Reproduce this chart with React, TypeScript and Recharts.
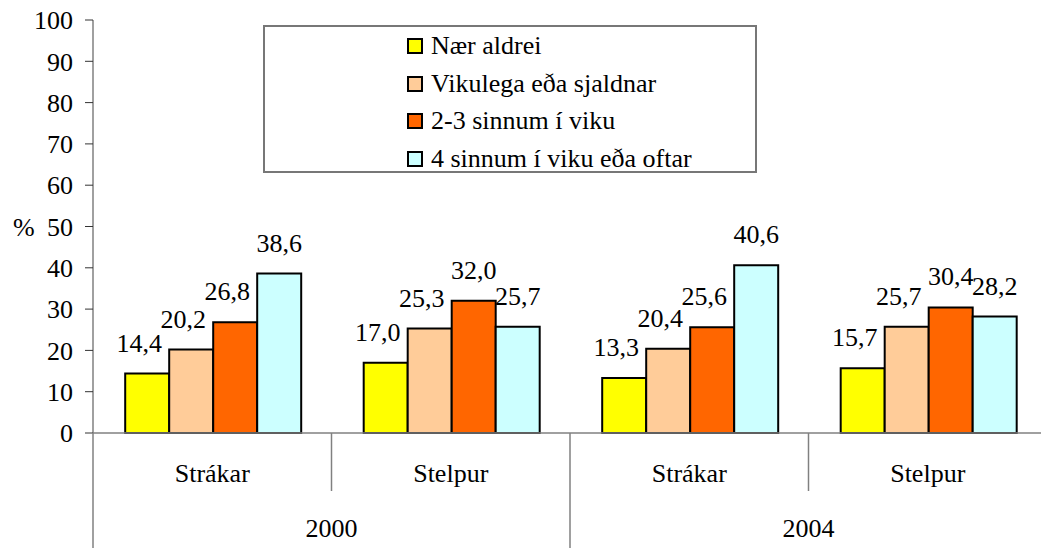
import { BarChart, Bar, XAxis, YAxis, Legend, LabelList, Label } from 'recharts';

const genders = ['Strákar', 'Stelpur', 'Strákar', 'Stelpur'];
const years = ['2000', '2000', '2004', '2004'];
const naerAldrei = [14.4, 17.0, 13.3, 15.7];
const vikulega = [20.2, 25.3, 20.4, 25.7];
const tvoTil3 = [26.8, 32.0, 25.6, 30.4];
const fjoguroftar = [38.6, 25.7, 40.6, 28.2];
const yTicks = [0, 10, 20, 30, 40, 50, 60, 70, 80, 90, 100];

const series = [
  { key: 'a', name: 'Nær aldrei', color: '#FFFF00' },
  { key: 'b', name: 'Vikulega eða sjaldnar', color: '#FFCC99' },
  { key: 'c', name: '2-3 sinnum í viku', color: '#FF6600' },
  { key: 'd', name: '4 sinnum í viku eða oftar', color: '#CCFFFF' },
];

const data = genders.map((g, i) => ({
  gender: g,
  year: years[i],
  a: naerAldrei[i],
  b: vikulega[i],
  c: tvoTil3[i],
  d: fjoguroftar[i],
}));

const FONT = '"Liberation Serif", "Times New Roman", serif';
const FS = 26;
const W = 1050;
const H = 548;
const margin = { top: 20, right: 3, bottom: 0, left: 0 };
const yWidth = 93;
const band = (W - margin.left - margin.right - yWidth) / genders.length;
const half = band / 2;
const axisColor = '#808080';

const fmt = (v: any) => Number(v).toFixed(1).replace('.', ',');

const GenderTick = (props: any) => {
  const { x, y, payload, index } = props;
  return (
    <g>
      <text x={x} y={y + 49} textAnchor="middle" fontSize={FS} fontFamily={FONT} fill="#000">
        {payload.value}
      </text>
      {index === 0 && <line x1={x - half} x2={x - half} y1={y} y2={H} stroke={axisColor} strokeWidth={1.5} />}
      <line
        x1={x + half}
        x2={x + half}
        y1={y}
        y2={index === 1 ? H : y + 58}
        stroke={axisColor}
        strokeWidth={1.5}
      />
    </g>
  );
};

const YearTick = (props: any) => {
  const { x, y, payload, index } = props;
  if (index % 2 !== 0) return <g />;
  return (
    <text x={x + half} y={y + 46} textAnchor="middle" fontSize={FS} fontFamily={FONT} fill="#000">
      {payload.value}
    </text>
  );
};

// labels nudge left when the next bar in the group is taller (like Excel did)
const makeValueLabel = (seriesIdx: number) => (props: any) => {
  const { x, y, width, value, index } = props;
  const next = series[seriesIdx + 1];
  const nextVal = next ? (data[index] as any)[next.key] : -1;
  const dx = nextVal > value ? -8 : 0;
  return (
    <text
      x={x + width / 2 + dx}
      y={y - 22}
      textAnchor="middle"
      fontSize={FS}
      fontFamily={FONT}
      fill="#000"
    >
      {fmt(value)}
    </text>
  );
};

const LegendBox = () => (
  <div
    style={{
      width: 494,
      height: 148,
      boxSizing: 'border-box',
      border: '2px solid #777',
      background: '#fff',
      position: 'relative',
      fontFamily: FONT,
      fontSize: FS,
    }}
  >
    {series.map((s, i) => (
      <div
        key={s.key}
        style={{
          position: 'absolute',
          left: 142,
          top: 4 + i * 37.5,
          height: 30,
          display: 'flex',
          alignItems: 'center',
          whiteSpace: 'nowrap',
          lineHeight: '30px',
        }}
      >
        <span
          style={{
            display: 'inline-block',
            width: 12,
            height: 12,
            border: '2px solid #000',
            background: s.color,
            marginRight: 8,
          }}
        />
        {s.name}
      </div>
    ))}
  </div>
);

export default function App() {
  return (
    <div style={{ position: 'absolute', left: 0, top: 0, width: 1041, height: H, overflow: 'hidden', background: '#fff' }}>
      <BarChart width={W} height={H} data={data} margin={margin} barCategoryGap="13.5%" barGap={0}>
        <XAxis
          dataKey="gender"
          xAxisId={0}
          height={58}
          tickLine={false}
          tickSize={0}
          tickMargin={0}
          axisLine={{ stroke: axisColor, strokeWidth: 1.5 }}
          tick={<GenderTick />}
          interval={0}
        />
        <XAxis
          dataKey="year"
          xAxisId="year"
          height={57}
          tickLine={false}
          tickSize={0}
          tickMargin={0}
          axisLine={false}
          tick={<YearTick />}
          interval={0}
        />
        <YAxis
          width={yWidth}
          domain={[0, 100]}
          ticks={yTicks}
          interval={0}
          tickSize={8}
          tickMargin={12}
          axisLine={{ stroke: axisColor, strokeWidth: 1.5 }}
          tickLine={{ stroke: '#333' }}
          tick={{ fontSize: FS, fontFamily: FONT, fill: '#000' }}
        >
          <Label value="%" position="insideLeft" offset={13} fontSize={FS} fontFamily={FONT} fill="#000" />
        </YAxis>
        <Legend
          layout="vertical"
          align="center"
          verticalAlign="middle"
          wrapperStyle={{ position: 'absolute', left: 263, top: 25, width: 494, height: 148 }}
          content={<LegendBox />}
        />
        {series.map((s, si) => (
          <Bar
            key={s.key}
            dataKey={s.key}
            name={s.name}
            fill={s.color}
            stroke="#000"
            strokeWidth={2}
            xAxisId={0}
            isAnimationActive={false}
          >
            <LabelList dataKey={s.key} content={makeValueLabel(si)} />
          </Bar>
        ))}
      </BarChart>
    </div>
  );
}
